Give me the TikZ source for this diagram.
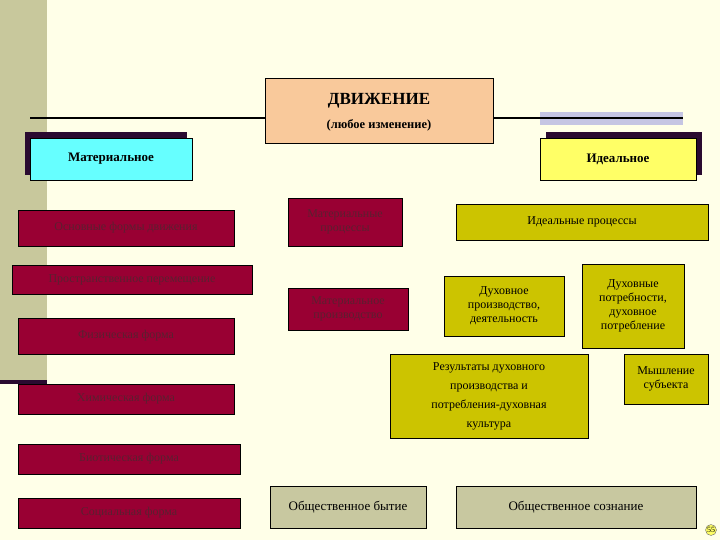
\documentclass[tikz,border=0pt]{standalone}
\usepackage{fontspec}
\setmainfont{Liberation Serif}
\definecolor{bg}{HTML}{FFFFE8}
\definecolor{bar}{HTML}{C8C89C}
\definecolor{peach}{HTML}{F9C99B}
\definecolor{red}{HTML}{990033}
\definecolor{redtxt}{HTML}{5A2030}
\definecolor{olive}{HTML}{CCC400}
\definecolor{gro}{HTML}{C8C8A0}
\definecolor{shad}{HTML}{2A0A30}
\definecolor{cyanb}{HTML}{66FFFF}
\definecolor{yelb}{HTML}{FFFF66}
\begin{document}
\begin{tikzpicture}[x=1pt,y=-1pt,
  bx/.style={draw=black,line width=0.6pt,inner sep=1pt,align=center,font=\fontsize{12}{14}\selectfont},
  rbox/.style={bx,fill=red,text=redtxt},
  obox/.style={bx,fill=olive,text=black},
  gbox/.style={bx,fill=gro,text=black}]
\fill[bg] (0,0) rectangle (720,540);
\useasboundingbox (0,0) rectangle (720,540);
\fill[bar] (0,0) rectangle (47,382);
\fill[shad] (0,380) rectangle (47,384);
% top line
\fill[black!20!gray!60!blue!30] (540,112) rectangle (683,125);
\draw[line width=1.2pt] (30,118) -- (265,118);
\draw[line width=1.2pt] (493,118) -- (683,118);
% title
\node[bx,fill=peach,minimum width=228pt,minimum height=65pt] (t) at (379,110.5) {};
\node[font=\bfseries\fontsize{17}{19}\selectfont] (t1) at (379,101) {ДВИЖЕНИЕ};
\node[font=\bfseries\fontsize{12.5}{14}\selectfont] (t2) at (379,125) {(любое изменение)};
% shadows
\fill[shad] (25,132) rectangle (187,175);
\fill[shad] (546,132) rectangle (702,175);
\node[bx,fill=cyanb,font=\bfseries\fontsize{13}{15}\selectfont,minimum width=162pt,minimum height=42pt] (mat) at (111,159) {Материальное};
\node[bx,fill=yelb,font=\bfseries\fontsize{13}{15}\selectfont,minimum width=156pt,minimum height=42pt] (id) at (618,159) {Идеальное};
% red
\node[rbox,minimum width=216pt,minimum height=36pt] (r1) at (126,228) {Основные формы движения};
\node[rbox,minimum width=240pt,minimum height=29pt] (r2) at (132,279.5) {Пространственное перемещение};
\node[rbox,minimum width=216pt,minimum height=36pt] (r3) at (126,336) {Физическая форма};
\node[rbox,minimum width=216pt,minimum height=30pt] (r4) at (126,399) {Химическая форма};
\node[rbox,minimum width=222pt,minimum height=30pt] (r5) at (129,459) {Биотическая форма};
\node[rbox,minimum width=222pt,minimum height=30pt] (r6) at (129,513) {Социальная форма};
\node[rbox,minimum width=114pt,minimum height=48pt] (mp) at (345,222) {Материальные\\процессы};
\node[rbox,minimum width=120pt,minimum height=42pt] (mpr) at (348,309) {Материальное\\производство};
% olive
\node[obox,minimum width=252pt,minimum height=36pt] (ip) at (582,222) {Идеальные процессы};
\node[obox,minimum width=120pt,minimum height=60pt] (dp) at (504,306) {Духовное\\производство,\\деятельность};
\node[obox,minimum width=102pt,minimum height=84pt] (dn) at (633,306) {Духовные\\потребности,\\духовное\\потребление};
\node[obox,minimum width=198pt,minimum height=84pt,font=\fontsize{12}{19}\selectfont] (res) at (489,396) {Результаты духовного\\производства  и\\потребления-духовная\\культура};
\node[obox,minimum width=84pt,minimum height=50pt] (ms) at (666,379) {Мышление\\субъекта};
% grey
\node[gbox,minimum width=156pt,minimum height=42pt,font=\fontsize{13}{15}\selectfont] (ob) at (348,507) {Общественное бытие};
\node[gbox,minimum width=240pt,minimum height=42pt,font=\fontsize{13}{15}\selectfont] (os) at (576,507) {Общественное сознание};
\node[circle,draw=black!60,fill=yelb,inner sep=0.5pt,font=\fontsize{8}{9}\selectfont] (pg) at (711,530) {55};
\end{tikzpicture}
\end{document}
